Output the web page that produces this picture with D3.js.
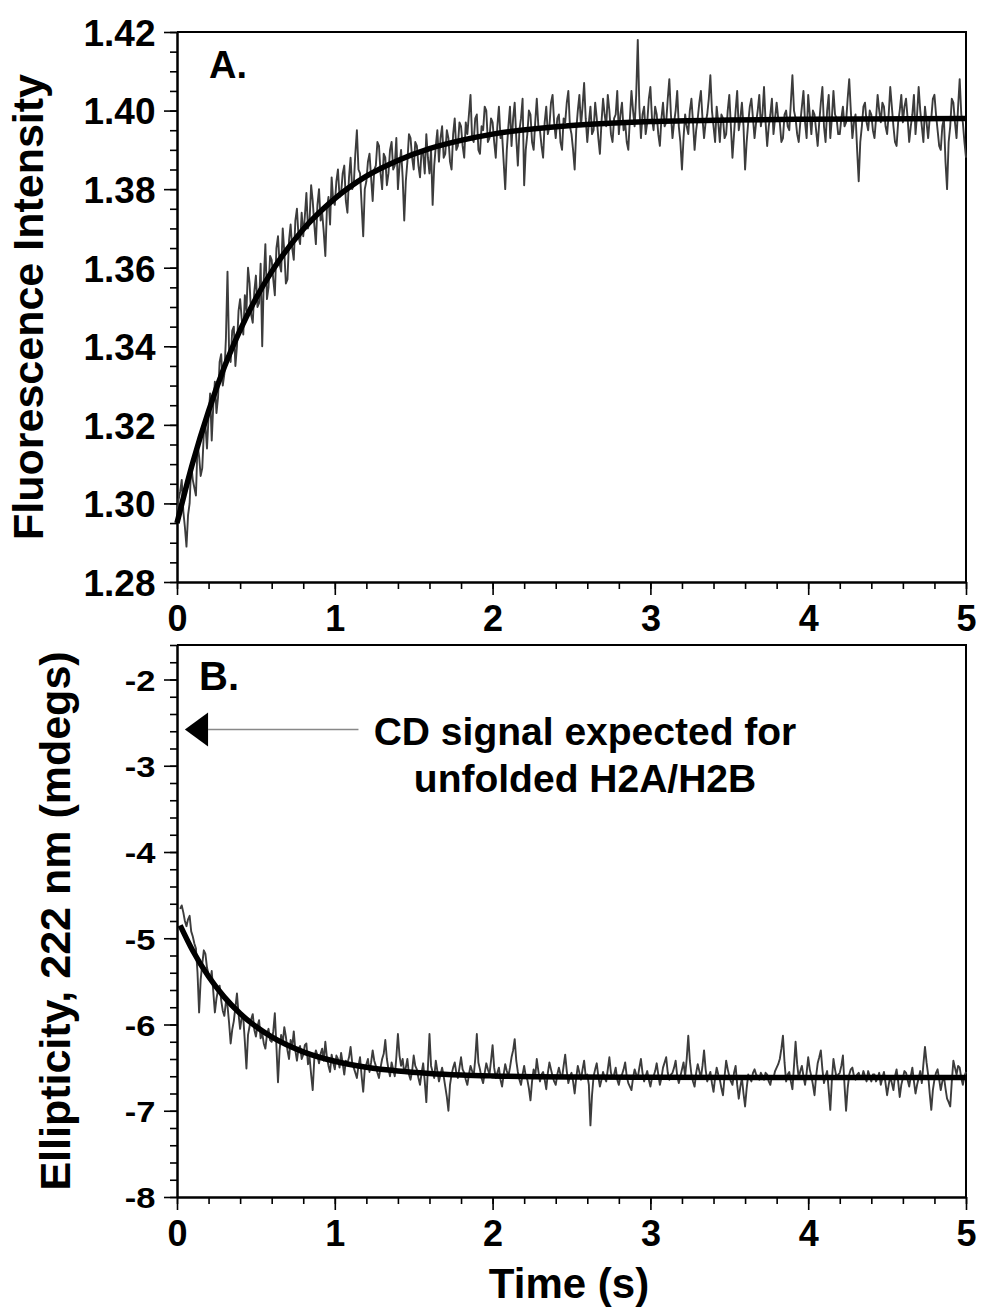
<!DOCTYPE html>
<html>
<head>
<meta charset="utf-8">
<script src="https://cdn.jsdelivr.net/npm/d3@7"></script>
<style>
  body { margin: 0; background: #fff; }
  text { font-family: "Liberation Sans", Arial, sans-serif; font-weight: bold; fill: #000; }
</style>
</head>
<body>
<div id="chart"></div>
<script>
// time axis (s)
const xTicks = [0, 1, 2, 3, 4, 5]

// panel A: fluorescence intensity, sampled every 0.01 s from 0 to 5 s
const fluorTrace = [
  1.296, 1.301, 1.303, 1.306, 1.298, 1.294, 1.289, 1.297, 1.300, 1.310, 1.306, 1.304, 1.302, 1.315, 1.312, 1.307, 1.309, 1.318, 1.320, 1.314,
  1.322, 1.328, 1.316, 1.325, 1.331, 1.323, 1.327, 1.336, 1.338, 1.330, 1.333, 1.342, 1.359, 1.339, 1.336, 1.344, 1.345, 1.335, 1.340, 1.349,
  1.352, 1.347, 1.343, 1.353, 1.349, 1.360, 1.356, 1.348, 1.346, 1.354, 1.358, 1.350, 1.351, 1.361, 1.340, 1.357, 1.366, 1.352, 1.355, 1.363,
  1.362, 1.357, 1.353, 1.365, 1.368, 1.361, 1.359, 1.370, 1.364, 1.356, 1.357, 1.367, 1.371, 1.365, 1.362, 1.372, 1.375, 1.368, 1.366, 1.374,
  1.368, 1.373, 1.379, 1.370, 1.372, 1.381, 1.377, 1.371, 1.366, 1.376, 1.380, 1.372, 1.374, 1.369, 1.363, 1.375, 1.378, 1.371, 1.383, 1.377,
  1.376, 1.382, 1.385, 1.378, 1.379, 1.384, 1.386, 1.377, 1.374, 1.383, 1.388, 1.380, 1.381, 1.389, 1.395, 1.385, 1.384, 1.376, 1.368, 1.380,
  1.382, 1.387, 1.389, 1.383, 1.377, 1.385, 1.386, 1.392, 1.391, 1.384, 1.380, 1.389, 1.388, 1.381, 1.384, 1.390, 1.392, 1.385, 1.386, 1.393,
  1.380, 1.386, 1.390, 1.383, 1.372, 1.382, 1.387, 1.394, 1.393, 1.388, 1.385, 1.392, 1.391, 1.386, 1.383, 1.390, 1.389, 1.384, 1.394, 1.388,
  1.384, 1.390, 1.376, 1.386, 1.391, 1.395, 1.387, 1.393, 1.396, 1.388, 1.389, 1.395, 1.393, 1.387, 1.385, 1.394, 1.398, 1.390, 1.391, 1.397,
  1.396, 1.391, 1.388, 1.397, 1.394, 1.399, 1.404, 1.393, 1.392, 1.398, 1.399, 1.390, 1.389, 1.396, 1.395, 1.401, 1.400, 1.392, 1.393, 1.398,
  1.397, 1.392, 1.388, 1.396, 1.401, 1.393, 1.394, 1.387, 1.380, 1.390, 1.396, 1.401, 1.391, 1.398, 1.402, 1.393, 1.386, 1.395, 1.398, 1.403,
  1.381, 1.390, 1.394, 1.400, 1.399, 1.392, 1.390, 1.397, 1.403, 1.396, 1.395, 1.391, 1.388, 1.397, 1.401, 1.394, 1.396, 1.402, 1.404, 1.397,
  1.393, 1.398, 1.399, 1.392, 1.390, 1.398, 1.397, 1.402, 1.405, 1.396, 1.394, 1.390, 1.385, 1.395, 1.400, 1.404, 1.396, 1.401, 1.407, 1.398,
  1.392, 1.397, 1.401, 1.394, 1.395, 1.402, 1.398, 1.393, 1.389, 1.397, 1.403, 1.399, 1.396, 1.404, 1.400, 1.394, 1.392, 1.398, 1.399, 1.405,
  1.394, 1.399, 1.402, 1.395, 1.397, 1.392, 1.390, 1.398, 1.405, 1.400, 1.396, 1.404, 1.418, 1.401, 1.393, 1.399, 1.401, 1.394, 1.397, 1.403,
  1.406, 1.398, 1.395, 1.401, 1.399, 1.394, 1.391, 1.398, 1.402, 1.396, 1.397, 1.403, 1.408, 1.399, 1.393, 1.397, 1.400, 1.405, 1.396, 1.392,
  1.385, 1.393, 1.399, 1.396, 1.394, 1.400, 1.403, 1.397, 1.390, 1.395, 1.398, 1.402, 1.405, 1.398, 1.393, 1.397, 1.399, 1.403, 1.409, 1.400,
  1.396, 1.392, 1.401, 1.397, 1.392, 1.399, 1.398, 1.393, 1.394, 1.400, 1.404, 1.396, 1.388, 1.394, 1.400, 1.405, 1.395, 1.398, 1.402, 1.396,
  1.385, 1.392, 1.397, 1.401, 1.403, 1.398, 1.393, 1.397, 1.400, 1.404, 1.396, 1.399, 1.406, 1.397, 1.391, 1.396, 1.399, 1.403, 1.394, 1.398,
  1.402, 1.398, 1.397, 1.392, 1.393, 1.399, 1.400, 1.396, 1.395, 1.402, 1.409, 1.400, 1.398, 1.394, 1.392, 1.397, 1.401, 1.405, 1.397, 1.393,
  1.404, 1.399, 1.394, 1.400, 1.399, 1.395, 1.391, 1.397, 1.402, 1.406, 1.396, 1.392, 1.400, 1.404, 1.393, 1.398, 1.405, 1.399, 1.398, 1.394,
  1.394, 1.398, 1.401, 1.396, 1.397, 1.403, 1.408, 1.400, 1.393, 1.397, 1.399, 1.390, 1.382, 1.392, 1.396, 1.401, 1.402, 1.397, 1.395, 1.400,
  1.399, 1.395, 1.393, 1.398, 1.404, 1.400, 1.397, 1.402, 1.401, 1.396, 1.394, 1.399, 1.406, 1.401, 1.396, 1.392, 1.391, 1.397, 1.400, 1.404,
  1.397, 1.401, 1.403, 1.398, 1.392, 1.396, 1.399, 1.404, 1.394, 1.399, 1.406, 1.400, 1.396, 1.392, 1.401, 1.397, 1.393, 1.398, 1.398, 1.403,
  1.404, 1.399, 1.395, 1.391, 1.390, 1.396, 1.398, 1.387, 1.380, 1.392, 1.396, 1.403, 1.402, 1.397, 1.393, 1.401, 1.408, 1.399, 1.397, 1.392,
  1.388
]
const fluorTraceStart = 0
const fluorTraceStep = 0.01

// panel A: fitted curve
const fluorFitTime = [0, 0.1, 0.2, 0.3, 0.4, 0.5, 0.6, 0.8, 1.0, 1.2, 1.4, 1.6, 1.8, 2.0, 2.5, 3.0, 3.5, 4.0, 5.0]
const fluorFitValue = [1.295, 1.3104, 1.3235, 1.3347, 1.3441, 1.3522, 1.3590, 1.3698, 1.3776, 1.3833,
                       1.3873, 1.3903, 1.3924, 1.3940, 1.3962, 1.3972, 1.3976, 1.3978, 1.398]
const fluorTicks = [1.28, 1.30, 1.32, 1.34, 1.36, 1.38, 1.40, 1.42]

// panel B: ellipticity at 222 nm, sampled every 0.01 s from 0.02 to 5 s
const cdTrace = [
  -4.66, -4.62, -4.70, -4.80, -4.86, -4.78, -4.74, -4.92, -4.98, -5.06, -5.12, -5.40, -5.86, -5.48, -5.30, -5.14, -5.18, -5.34, -5.42, -5.50,
  -5.38, -5.62, -5.86, -5.70, -5.60, -5.55, -5.72, -5.84, -5.90, -5.74, -5.78, -5.98, -6.22, -6.06, -5.96, -5.80, -5.64, -5.88, -6.05, -5.92,
  -5.92, -6.20, -6.51, -6.12, -6.02, -5.94, -5.88, -6.06, -6.14, -6.02, -5.95, -6.16, -6.10, -6.22, -6.28, -6.12, -6.05, -6.18, -6.20, -6.08,
  -5.87, -6.25, -6.67, -6.30, -6.12, -6.22, -6.03, -6.14, -6.30, -6.40, -6.18, -6.26, -6.08, -6.30, -6.42, -6.28, -6.25, -6.40, -6.35, -6.24,
  -6.22, -6.46, -6.38, -6.58, -6.76, -6.40, -6.30, -6.36, -6.45, -6.34, -6.28, -6.42, -6.20, -6.38, -6.48, -6.55, -6.35, -6.44, -6.52, -6.36,
  -6.40, -6.50, -6.33, -6.45, -6.58, -6.42, -6.45, -6.38, -6.26, -6.44, -6.50, -6.56, -6.62, -6.48, -6.38, -6.60, -6.78, -6.52, -6.46, -6.40,
  -6.55, -6.44, -6.30, -6.42, -6.48, -6.56, -6.62, -6.50, -6.40, -6.34, -6.18, -6.40, -6.52, -6.60, -6.44, -6.52, -6.60, -6.38, -6.11, -6.36,
  -6.48, -6.40, -6.56, -6.50, -6.40, -6.58, -6.64, -6.54, -6.36, -6.48, -6.52, -6.62, -6.70, -6.56, -6.45, -6.66, -6.90, -6.50, -6.11, -6.48,
  -6.55, -6.62, -6.42, -6.54, -6.66, -6.58, -6.50, -6.60, -6.72, -6.84, -7.00, -6.70, -6.58, -6.50, -6.44, -6.56, -6.62, -6.50, -6.38, -6.52,
  -6.56, -6.64, -6.70, -6.58, -6.48, -6.54, -6.60, -6.40, -6.11, -6.44, -6.52, -6.62, -6.68, -6.56, -6.45, -6.52, -6.58, -6.42, -6.24, -6.50,
  -6.62, -6.56, -6.50, -6.64, -6.72, -6.58, -6.46, -6.54, -6.60, -6.50, -6.38, -6.30, -6.17, -6.42, -6.55, -6.64, -6.70, -6.58, -6.48, -6.60,
  -6.64, -6.74, -6.88, -6.66, -6.52, -6.60, -6.40, -6.54, -6.66, -6.58, -6.55, -6.64, -6.75, -6.56, -6.44, -6.52, -6.60, -6.66, -6.70, -6.58,
  -6.50, -6.58, -6.62, -6.48, -6.35, -6.54, -6.68, -6.60, -6.56, -6.66, -6.80, -6.62, -6.48, -6.56, -6.64, -6.52, -6.42, -6.60, -6.58, -6.70,
  -7.17, -6.82, -6.60, -6.52, -6.45, -6.60, -6.72, -6.64, -6.55, -6.62, -6.66, -6.52, -6.38, -6.56, -6.62, -6.58, -6.50, -6.64, -6.70, -6.60,
  -6.58, -6.52, -6.44, -6.60, -6.68, -6.72, -6.76, -6.62, -6.52, -6.58, -6.62, -6.50, -6.40, -6.56, -6.66, -6.60, -6.54, -6.64, -6.72, -6.62,
  -6.60, -6.54, -6.45, -6.58, -6.70, -6.62, -6.50, -6.44, -6.38, -6.56, -6.64, -6.58, -6.56, -6.50, -6.42, -6.60, -6.68, -6.60, -6.52, -6.44,
  -6.60, -6.40, -6.13, -6.42, -6.58, -6.66, -6.72, -6.56, -6.46, -6.54, -6.62, -6.48, -6.30, -6.52, -6.66, -6.60, -6.55, -6.68, -6.78, -6.62,
  -6.50, -6.58, -6.64, -6.74, -6.82, -6.60, -6.42, -6.52, -6.60, -6.66, -6.70, -6.56, -6.48, -6.70, -6.86, -6.72, -6.62, -6.80, -6.95, -6.74,
  -6.58, -6.62, -6.66, -6.56, -6.52, -6.58, -6.60, -6.64, -6.56, -6.60, -6.64, -6.56, -6.58, -6.66, -6.70, -6.60, -6.62, -6.54, -6.50, -6.46,
  -6.40, -6.28, -6.13, -6.44, -6.66, -6.58, -6.55, -6.66, -6.75, -6.48, -6.20, -6.46, -6.62, -6.54, -6.48, -6.60, -6.70, -6.56, -6.38, -6.52,
  -6.60, -6.70, -6.82, -6.60, -6.45, -6.38, -6.30, -6.52, -6.68, -6.60, -6.54, -6.76, -6.99, -6.64, -6.40, -6.52, -6.62, -6.58, -6.56, -6.48,
  -6.36, -6.70, -7.00, -6.74, -6.58, -6.52, -6.50, -6.60, -6.64, -6.58, -6.56, -6.62, -6.62, -6.54, -6.60, -6.66, -6.54, -6.60, -6.66, -6.58,
  -6.58, -6.66, -6.62, -6.56, -6.70, -6.62, -6.55, -6.68, -6.82, -6.70, -6.60, -6.68, -6.76, -6.60, -6.52, -6.66, -6.84, -6.70, -6.62, -6.54,
  -6.56, -6.64, -6.72, -6.60, -6.50, -6.66, -6.80, -6.70, -6.62, -6.54, -6.68, -6.46, -6.26, -6.44, -6.58, -6.80, -6.99, -6.76, -6.64, -6.56,
  -6.52, -6.64, -6.76, -6.66, -6.60, -6.74, -6.86, -6.90, -6.95, -6.66, -6.42, -6.50, -6.58, -6.48, -6.50, -6.62, -6.70, -6.60, -6.55
]
const cdTraceStart = 0.02
const cdTraceStep = 0.01

// panel B: fitted curve
const cdFitTime = [0.02, 0.1, 0.2, 0.3, 0.4, 0.5, 0.6, 0.8, 1.0, 1.2, 1.4, 1.6, 1.8, 2.0, 2.5, 3.0, 4.0, 5.0]
const cdFitValue = [-4.85, -5.145, -5.444, -5.683, -5.873, -6.024, -6.144, -6.317, -6.426, -6.495,
                    -6.539, -6.567, -6.585, -6.596, -6.609, -6.613, -6.615, -6.615]
const cdTicks = [-8, -7, -6, -5, -4, -3, -2]

// the unfolded-protein reference level marked by the arrow
const cdUnfolded = -2.58
const arrowTime = [0.05, 0.197, 1.15]

const W = 983, H = 1315
const left = 177, right = 966

const svg = d3.select("#chart")
              .append("svg")
              .attr("width", W)
              .attr("height", H)

const x = d3.scaleLinear()
            .domain([0, 5])
            .range([left, right])

const xMinor = d3.range(0, 5.001, 0.2).map(d => +d.toFixed(1))

function panel(opts) {
    const y = d3.scaleLinear()
                .domain(opts.domain)
                .range([opts.bottom, opts.top])

    const g = svg.append("g")

    // frame on top and right
    g.append("path")
     .attr("d", `M${left},${opts.top}H${right}V${opts.bottom}`)
     .attr("fill", "none")
     .attr("stroke", "#000")
     .attr("stroke-width", 2)

    // minor ticks
    g.append("g")
     .attr("transform", `translate(0,${opts.bottom})`)
     .call(d3.axisBottom(x).tickValues(xMinor).tickFormat("").tickSize(7).tickSizeOuter(0))
    g.append("g")
     .attr("transform", `translate(${left},0)`)
     .call(d3.axisLeft(y).tickValues(opts.minor).tickFormat("").tickSize(7).tickSizeOuter(0))

    // major ticks + labels
    const xa = g.append("g")
                .attr("transform", `translate(0,${opts.bottom})`)
                .call(d3.axisBottom(x).tickValues(xTicks).tickFormat(d => d).tickSize(13).tickSizeOuter(0))
    xa.selectAll("text")
      .attr("y", 23)
      .attr("dy", "0.71em")
      .style("font-size", "36px")

    const ya = g.append("g")
                .attr("transform", `translate(${left},0)`)
                .call(d3.axisLeft(y).tickValues(opts.ticks).tickFormat(opts.format).tickSize(13).tickSizeOuter(0))
    ya.selectAll("text")
      .attr("x", -21.5 / opts.labelStretch)
      .attr("dy", "0.36em")
      .attr("transform", `scale(${opts.labelStretch},1)`)
      .style("font-size", opts.labelSize + "px")

    g.selectAll(".domain").attr("stroke-width", 2)
    g.selectAll(".tick line").attr("stroke-width", 1.6)

    // noisy trace
    const line = d3.line()
                   .x((d, i) => x(opts.start + i * opts.step))
                   .y(d => y(d))
    g.append("path")
     .datum(opts.trace)
     .attr("fill", "none")
     .attr("stroke", "#3c3c3c")
     .attr("stroke-width", 1.9)
     .attr("stroke-linejoin", "round")
     .attr("d", line)

    // fitted curve
    const fit = d3.line()
                  .x(d => x(d[0]))
                  .y(d => y(d[1]))
                  .curve(d3.curveMonotoneX)
    g.append("path")
     .datum(d3.zip(opts.fitTime, opts.fitValue))
     .attr("fill", "none")
     .attr("stroke", "#000")
     .attr("stroke-width", 5.5)
     .attr("d", fit)

    // panel letter
    g.append("text")
     .attr("x", opts.letterX)
     .attr("y", opts.letterY)
     .style("font-size", opts.letterSize + "px")
     .text(opts.letter)

    // y title
    g.append("text")
     .attr("transform", `translate(${opts.titleX},${(opts.top + opts.bottom) / 2}) rotate(-90)`)
     .attr("text-anchor", "middle")
     .style("font-size", "43px")
     .text(opts.title)

    return y
}

panel({
    top: 32, bottom: 582,
    domain: [1.28, 1.42],
    ticks: fluorTicks,
    minor: d3.range(0, 29).map(i => +(1.28 + i * 0.005).toFixed(3)),
    format: d3.format(".2f"),
    labelSize: 37, labelStretch: 1.0,
    trace: fluorTrace, start: fluorTraceStart, step: fluorTraceStep,
    fitTime: fluorFitTime, fitValue: fluorFitValue,
    letter: "A.", letterX: 209, letterY: 78, letterSize: 38,
    title: "Fluorescence Intensity", titleX: 43
})

const yB = panel({
    top: 645, bottom: 1197,
    domain: [-8, -1.6],
    ticks: cdTicks,
    minor: d3.range(0, 33).map(i => +(-8 + i * 0.2).toFixed(1)),
    format: d => String(d),
    labelSize: 30, labelStretch: 1.15,
    trace: cdTrace, start: cdTraceStart, step: cdTraceStep,
    fitTime: cdFitTime, fitValue: cdFitValue,
    letter: "B.", letterX: 199, letterY: 690, letterSize: 40,
    title: "Ellipticity, 222 nm (mdegs)", titleX: 70
})

// arrow marking the expected unfolded signal
const ay = yB(cdUnfolded)
svg.append("line")
   .attr("x1", x(arrowTime[1]))
   .attr("x2", x(arrowTime[2]))
   .attr("y1", ay)
   .attr("y2", ay)
   .attr("stroke", "#888")
   .attr("stroke-width", 1.5)
svg.append("path")
   .attr("d", `M${x(arrowTime[0])},${ay}L${x(arrowTime[1])},${ay - 17}L${x(arrowTime[1])},${ay + 17}Z`)
   .attr("fill", "#000")

svg.append("text")
   .attr("x", 585)
   .attr("y", 745)
   .attr("text-anchor", "middle")
   .style("font-size", "39px")
   .text("CD signal expected for")
svg.append("text")
   .attr("x", 585)
   .attr("y", 792)
   .attr("text-anchor", "middle")
   .style("font-size", "39px")
   .text("unfolded H2A/H2B")

// x title
svg.append("text")
   .attr("x", 569)
   .attr("y", 1298)
   .attr("text-anchor", "middle")
   .style("font-size", "42px")
   .text("Time (s)")
</script>
</body>
</html>
